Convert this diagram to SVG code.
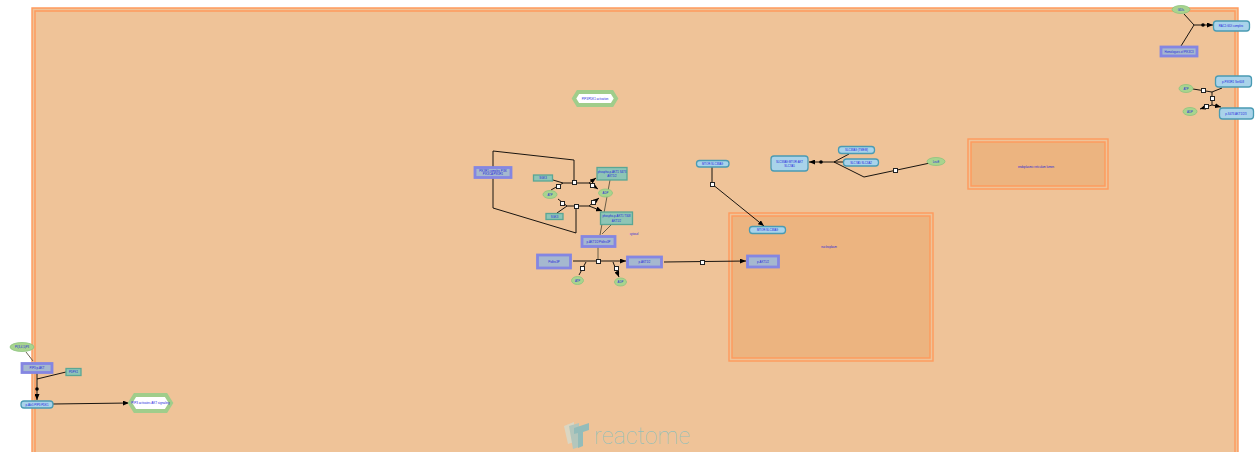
<svg xmlns="http://www.w3.org/2000/svg" width="1257" height="452" viewBox="0 0 1257 452">
<defs>
<marker id="a" markerUnits="userSpaceOnUse" markerWidth="6" markerHeight="5" refX="6" refY="2.500" orient="auto"><path d="M0 0L6 2.500L0 5Z" fill="#000"/></marker>
</defs>
<style>
text{font-family:"Liberation Sans",Arial,sans-serif;font-size:2.8px;fill:#2222dd;text-anchor:middle;dominant-baseline:central}
.comp{stroke:#ff9a5c;stroke-width:1.4}
.ent{fill:#a9d3ea;stroke:#4a9bb3;stroke-width:1.3}
.cpx{fill:#a5b8cf;stroke:#8486e2;stroke-width:2.8}
.pro{fill:#8ec5b5;stroke:#5aa694;stroke-width:1.3}
.chem{fill:#a8d48e;stroke:#8cc47f;stroke-width:.8}
.path{fill:#fff;stroke:#a0cd8b;stroke-width:4}
.l{fill:none;stroke:#000;stroke-width:.9}
.g{fill:none;stroke:#5a5240;stroke-width:.9}
.s{fill:#fff;stroke:#222;stroke-width:1;shape-rendering:crispEdges}
.d{fill:#000}
</style>
<rect width="1257" height="452" fill="#fff"/>
<g id="compartments">
<path d="M32 452V8H1238V452" fill="#efc398" class="comp"/>
<path d="M35 452V11H1235V452" fill="none" class="comp"/>
<rect x="968" y="139" width="140" height="50" fill="#efc398" class="comp"/>
<rect x="971" y="142" width="134" height="44" fill="#ecb480" class="comp"/>
<rect x="729" y="213" width="204" height="148" fill="#efc398" class="comp"/>
<rect x="732" y="216" width="198" height="142" fill="#ecb480" class="comp"/>
<text x="1036" y="166.500">endoplasmic reticulum lumen</text>
<text x="829" y="247">nucleoplasm</text>
<text x="634" y="234">cytosol</text>
</g>
<g id="connectors">
<path class="l" d="M1184 14L1194 25L1181 46"/>
<path class="l" d="M1194 25H1213" marker-end="url(#a)"/>
<circle class="d" cx="1203" cy="25" r="1.800"/>
<path class="l" d="M1193 89L1212 92L1222 88"/>
<path class="l" d="M1212 92V105L1221 107" marker-end="url(#a)"/>
<path class="l" d="M1212 105L1200 109" marker-end="url(#a)"/>
<rect class="s" x="1201" y="88" width="4" height="4"/>
<rect class="s" x="1210" y="96" width="4" height="4"/>
<rect class="s" x="1204" y="104" width="4" height="4"/>
<path class="l" d="M493 182V151L574 160V181"/>
<path class="l" d="M493 182V208L576 233V208"/>
<path class="l" d="M551 190L558 186L563 183H589L596 178" marker-end="url(#a)"/>
<path class="l" d="M553 180L563 183"/>
<path class="l" d="M589 183L598 189" marker-end="url(#a)"/>
<path class="l" d="M558 199L567 206H589L602 211" marker-end="url(#a)"/>
<path class="l" d="M567 206L557 213"/>
<path class="l" d="M589 206L599 198" marker-end="url(#a)"/>
<rect class="s" x="572" y="180" width="4" height="4"/>
<rect class="s" x="556" y="184" width="4" height="4"/>
<rect class="s" x="590" y="183" width="4" height="4"/>
<rect class="s" x="560" y="201" width="4" height="4"/>
<rect class="s" x="591" y="200" width="4" height="4"/>
<rect class="s" x="574" y="204" width="4" height="4"/>
<path class="g" d="M610 180L600 235M611 225L602 234"/>
<path class="g" d="M598 247V261" stroke-width="1.400"/>
<path class="l" d="M573 261H626" marker-end="url(#a)"/>
<path class="l" d="M586 262L579 275"/>
<path class="l" d="M613 262L619 277" marker-end="url(#a)"/>
<rect class="s" x="596" y="259" width="4" height="4"/>
<rect class="s" x="580" y="266" width="4" height="4"/>
<rect class="s" x="614" y="266" width="4" height="4"/>
<path class="l" d="M664 262L746 261" marker-end="url(#a)"/>
<rect class="s" x="700" y="260" width="4" height="4"/>
<path class="l" d="M712 167V184L764 226" marker-end="url(#a)"/>
<rect class="s" x="710" y="182" width="4" height="4"/>
<path class="l" d="M849 154L834 162"/>
<path class="l" d="M844 162H809" marker-end="url(#a)"/>
<path class="l" d="M834 162L864 177L930 163"/>
<circle class="d" cx="821" cy="162" r="1.800"/>
<rect class="s" x="893" y="168" width="4" height="4"/>
<path class="g" d="M26 352L33 361"/>
<path class="l" d="M37 373V400" marker-end="url(#a)"/>
<path class="l" d="M37 379L66 372"/>
<circle class="d" cx="37" cy="389" r="1.800"/>
<path class="l" d="M53 404L129 403" marker-end="url(#a)"/>
</g>
<g id="n1"><ellipse class="chem" cx="1181" cy="9.500" rx="9" ry="4"/><text x="1181" y="9.500">GDIs</text></g>
<g id="n2"><rect class="ent" x="1213.500" y="21" width="36" height="10" rx="3"/><text x="1231" y="26">RAC1:GDI complex</text></g>
<g id="n3"><rect class="cpx" x="1161" y="47" width="36" height="9"/><text x="1179" y="51.500">Homologues of PIK3C3</text></g>
<g id="n4"><rect class="ent" x="1215.500" y="76" width="36" height="11" rx="3"/><text x="1233" y="81.500">p-PIK3R1 Ser608</text></g>
<g id="n5"><ellipse class="chem" cx="1186" cy="88.500" rx="7" ry="4"/><text x="1186" y="88.500">ATP</text></g>
<g id="n6"><ellipse class="chem" cx="1190" cy="111.500" rx="7" ry="4"/><text x="1190" y="111.500">ADP</text></g>
<g id="n7"><rect class="ent" x="1219.500" y="108" width="34" height="11" rx="3"/><text x="1236" y="113.500">p-S473 AKT1/2/3</text></g>
<g id="n8"><path class="path" d="M578 92H612L616 98.500L612 105H578L574 98.500Z"/><text x="595" y="98.500">PIP3/PDK1 activation</text></g>
<g id="n9"><rect class="cpx" x="475" y="167.500" width="36" height="10"/><text x="493" y="170.800">PIK3R1 complex PI3K</text><text x="493" y="174.400">PIK3CA:PIK3R1</text></g>
<g id="n10"><rect class="pro" x="533.500" y="175" width="19" height="6"/><text x="543" y="178">SGK3</text></g>
<g id="n11"><rect class="pro" x="597" y="167.500" width="30" height="12.500"/><text x="612" y="171.500">phospho-p-AKT1 S473</text><text x="612" y="176">AKT1/2</text></g>
<g id="n12"><ellipse class="chem" cx="550" cy="194.500" rx="7" ry="4"/><text x="550" y="194.500">ATP</text></g>
<g id="n13"><ellipse class="chem" cx="605.500" cy="193" rx="7" ry="4"/><text x="605.500" y="193">ADP</text></g>
<g id="n14"><rect class="pro" x="546" y="213.500" width="17" height="6"/><text x="554.500" y="216.500">SGK3</text></g>
<g id="n15"><rect class="pro" x="600.500" y="212" width="32" height="12.500"/><text x="616.500" y="216">phospho-p-AKT1 T308</text><text x="616.500" y="220.500">AKT1/2</text></g>
<g id="n16"><rect class="cpx" x="582" y="236.500" width="33" height="10"/><text x="598.500" y="241.500">p-AKT1/2:PtdIns3P</text></g>
<g id="n17"><rect class="cpx" x="537.500" y="255" width="33" height="13"/><text x="554" y="261.500">PtdIns3P</text></g>
<g id="n18"><rect class="cpx" x="627.500" y="257" width="34" height="10"/><text x="644.500" y="262">p-AKT1/2</text></g>
<g id="n19"><ellipse class="chem" cx="577.500" cy="280.500" rx="6" ry="4"/><text x="577.500" y="280.500">ATP</text></g>
<g id="n20"><ellipse class="chem" cx="620.500" cy="282" rx="6" ry="4"/><text x="620.500" y="282">ADP</text></g>
<g id="n21"><rect class="cpx" x="747.500" y="256" width="31" height="11"/><text x="763" y="261.500">p-AKT1/2</text></g>
<g id="n22"><rect class="ent" x="696.500" y="160.500" width="32.500" height="6.500" rx="3"/><text x="712.500" y="163.700">MTOR:SLC38A9</text></g>
<g id="n23"><rect class="ent" x="749.500" y="226.500" width="36" height="7" rx="3"/><text x="767.500" y="230">MTOR:SLC38A9</text></g>
<g id="n24"><rect class="ent" x="771" y="156" width="37" height="15" rx="3"/><text x="789.500" y="161.800">SLC38A9:MTOR:AKT</text><text x="789.500" y="165.500">SLC7A5</text></g>
<g id="n25"><rect class="ent" x="838.500" y="146.500" width="36" height="7" rx="3"/><text x="856.500" y="150">SLC38A9 (TMEM)</text></g>
<g id="n26"><rect class="ent" x="843.500" y="159" width="35" height="7" rx="3"/><text x="861" y="162.500">SLC7A5:SLC3A2</text></g>
<g id="n27"><ellipse class="chem" cx="936" cy="161.500" rx="9" ry="4"/><text x="936" y="161.500">LeuE</text></g>
<g id="n28"><ellipse class="chem" cx="22" cy="347" rx="12" ry="4.500"/><text x="22" y="347">PI(3,4,5)P3</text></g>
<g id="n29"><rect class="cpx" x="22" y="363.500" width="30" height="9"/><text x="37" y="368">PIP3:p-AKT</text></g>
<g id="n30"><rect class="pro" x="66" y="368.500" width="15" height="7"/><text x="73.500" y="372">PDPK1</text></g>
<g id="n31"><rect class="ent" x="21" y="401" width="32" height="7" rx="3"/><text x="37" y="404.500">p-Akt1:PIP3:PDK1</text></g>
<g id="n32"><path class="path" d="M135 395H166L171 403L166 411H135L130 403Z"/><text x="150.500" y="403" style="font-size:3px">PIP3 activates AKT signaling</text></g>
<g id="logo">
<path d="M564 426L574 422V442L568 444Z" fill="#dbd6c2"/>
<path d="M569 426L579 423V447L573 449Z" fill="#b3c6bc"/>
<path d="M574 428L589 423V430L583 432V446L578 448V433L574 434Z" fill="#93bcba"/>
<text x="594" y="436.500" textLength="96" lengthAdjust="spacing" style="text-anchor:start;font-family:Roboto,'Liberation Sans',sans-serif;font-size:23px;font-weight:100;fill:#93bfba">reactome</text>
</g>
</svg>
